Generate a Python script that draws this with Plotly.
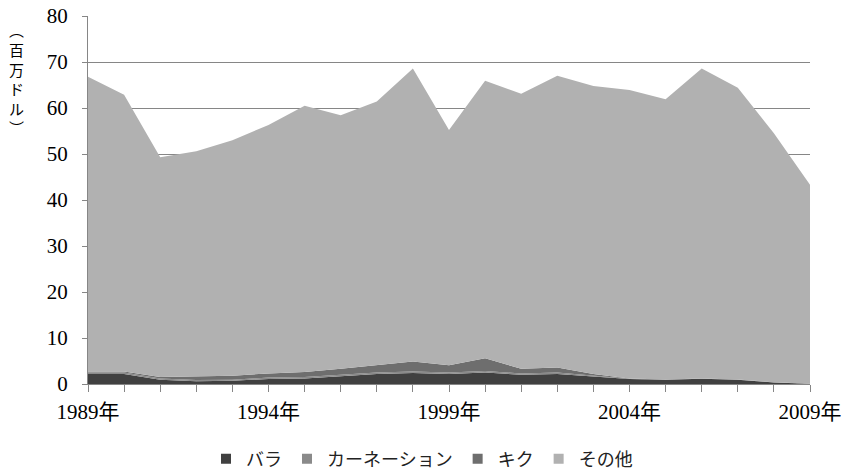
import plotly.graph_objects as go

years = list(range(1989, 2010))
total = [66.8, 62.9, 49.3, 50.6, 53.0, 56.3, 60.5, 58.4, 61.4, 68.6, 55.2,
         65.9, 63.1, 67.0, 64.8, 63.9, 61.9, 68.6, 64.4, 54.5, 43.3]
bara = [2.2, 2.2, 0.95, 0.6, 0.7, 1.1, 1.2, 1.7, 2.2, 2.4, 2.2,
        2.5, 2.0, 2.2, 1.6, 1.1, 0.95, 1.15, 0.95, 0.35, 0.05]
carnation = [0.3, 0.3, 0.25, 0.25, 0.25, 0.3, 0.3, 0.3, 0.3, 0.3, 0.3,
             0.3, 0.3, 0.3, 0.2, 0.05, 0.03, 0.02, 0.02, 0.01, 0.0]
kiku = [0.2, 0.2, 0.3, 0.85, 0.85, 0.9, 1.1, 1.3, 1.6, 2.2, 1.6,
        2.8, 1.0, 1.1, 0.4, 0.05, 0.02, 0.01, 0.01, 0.0, 0.0]
other = [round(t - b - c - k, 2) for t, b, c, k in zip(total, bara, carnation, kiku)]

names = ["バラ", "カーネーション", "キク", "その他"]
colors = ["#404040", "#8a8a8a", "#6e6e6e", "#b1b1b1"]
series = [bara, carnation, kiku, other]

ytick_vals = [0, 10, 20, 30, 40, 50, 60, 70, 80]
xlabel_years = [1989, 1994, 1999, 2004, 2009]
xtick_text = [f"{y}年" if y in xlabel_years else "" for y in years]
ytitle_chars = ["︵", "百", "万", "ド", "ル", "︶"]

font_family = "Liberation Serif, 'Noto Sans CJK JP', serif"

fig = go.Figure()
for n, c, s in zip(names, colors, series):
    fig.add_trace(go.Scatter(
        x=years, y=s, name=n, mode="lines", stackgroup="one",
        line=dict(width=0, color=c), fillcolor=c, showlegend=False,
    ))
# legend entries with square symbols
for n, c in zip(names, colors):
    fig.add_trace(go.Scatter(
        x=[None], y=[None], name=n, mode="markers",
        marker=dict(symbol="square", size=10, color=c),
    ))

fig.update_layout(
    width=844, height=471,
    margin=dict(l=88, r=34, t=16, b=87, autoexpand=False),
    paper_bgcolor="white", plot_bgcolor="white",
    font=dict(family=font_family, size=20, color="#000"),
    showlegend=True,
    legend=dict(orientation="h", x=0.4626, xanchor="center",
                y=-0.204, yanchor="middle",
                font=dict(size=18, color="#222"), itemwidth=30,
                traceorder="normal"),
    xaxis=dict(range=[1989, 2009], tickmode="array", tickvals=years,
               ticktext=xtick_text, ticks="outside", ticklen=7,
               tickcolor="#868686", showline=True, linecolor="#868686",
               showgrid=False, zeroline=False, tickangle=0,
               tickfont=dict(size=21), ticklabelstandoff=2,
               automargin=False),
    yaxis=dict(range=[0, 80], tickmode="array", tickvals=ytick_vals,
               ticks="outside", ticklen=5, tickcolor="#868686",
               showline=True, linecolor="#868686", showgrid=True,
               gridcolor="#868686", gridwidth=1, zeroline=False,
               tickfont=dict(size=21), ticklabelstandoff=10,
               automargin=False),
)

ytitle_pos = [30, 49.5, 69, 88.5, 108, 127.5]
for ch, py in zip(ytitle_chars, ytitle_pos):
    fig.add_annotation(
        text=ch, xref="paper", yref="paper",
        x=-0.099, y=(384 - py) / 368,
        xanchor="center", yanchor="middle", showarrow=False,
        font=dict(size=15, family="'Noto Sans CJK JP'"),
    )

fig.write_html("out.html", config={"displayModeBar": False},
               post_script="document.body.style.margin='0';")
